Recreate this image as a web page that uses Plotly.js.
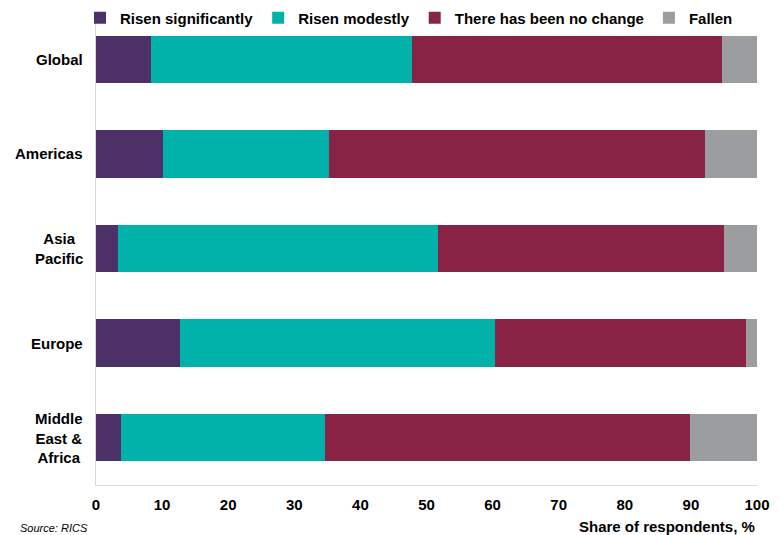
<!DOCTYPE html>
<html>
<head>
<meta charset="utf-8">
<script src="https://cdn.plot.ly/plotly-3.0.1.min.js"></script>
<style>html,body{margin:0;padding:0;background:#fff}#chart{width:779px;height:535px}</style>
</head>
<body>
<div id="chart"></div>
<script>
var regions = ["Global", "Americas", "Asia Pacific", "Europe", "Middle East & Africa"];
var regionLabels = ["Global", "Americas", "Asia<br>Pacific", "Europe", "Middle<br>East &<br>Africa"];
var seriesNames = ["Risen significantly", "Risen modestly", "There has been no change", "Fallen"];
var risenSignificantly = [8.3, 10.2, 3.3, 12.7, 3.8];
var risenModestly = [39.5, 25.0, 48.5, 47.7, 30.9];
var noChange = [46.9, 56.9, 43.2, 38.0, 55.2];
var fallen = [5.3, 7.9, 5.0, 1.6, 10.1];
var xTicks = [0, 10, 20, 30, 40, 50, 60, 70, 80, 90, 100];

var colors = ["#4e3068", "#00b2aa", "#882345", "#9c9d9f"];
var values = [risenSignificantly, risenModestly, noChange, fallen];
var FONT = "'Liberation Sans Narrow', 'Arial Narrow', 'Liberation Sans', Arial, sans-serif";

var traces = values.map(function (v, i) {
  return {
    type: 'bar', orientation: 'h', name: seriesNames[i],
    x: v, y: regions,
    marker: {color: colors[i], line: {width: 0}},
    hoverinfo: 'x+name'
  };
});

var annotations = regions.map(function (r, i) {
  return {
    xref: 'paper', yref: 'y', x: -0.016, y: r, xanchor: 'right', yanchor: 'middle',
    text: '<b>' + regionLabels[i] + '</b>', showarrow: false, align: 'center',
    font: {family: FONT, size: 15, color: '#000'}
  };
});
annotations.push({
  xref: 'paper', yref: 'paper', x: 1, y: -0.088, xanchor: 'right', yanchor: 'middle',
  text: '<b>Share of respondents, %</b>', showarrow: false,
  font: {family: FONT, size: 15, color: '#000'}
});
annotations.push({
  xref: 'paper', yref: 'paper', x: -0.118, y: -0.091, xanchor: 'left', yanchor: 'middle',
  text: '<i>Source: RICS</i>', showarrow: false,
  font: {family: FONT, size: 11, color: '#000'}
});

var layout = {
  width: 779, height: 535,
  margin: {l: 96, r: 22, t: 12, b: 50, autoexpand: false},
  paper_bgcolor: '#fff', plot_bgcolor: '#fff',
  barmode: 'stack', bargap: 0.5,
  font: {family: FONT, color: '#000'},
  showlegend: true,
  legend: {
    orientation: 'h', xref: 'container', yref: 'container',
    x: 80 / 779, y: 1 - 18 / 535, xanchor: 'left', yanchor: 'middle',
    font: {family: FONT, size: 15, color: '#000', weight: 'bold'},
    itemwidth: 30, traceorder: 'normal', bgcolor: 'rgba(0,0,0,0)'
  },
  xaxis: {
    range: [0, 100], tickvals: xTicks, ticktext: xTicks.map(String),
    showgrid: false, zeroline: false, showline: true, linecolor: '#d9d9d9', linewidth: 1,
    ticks: '', ticklabelstandoff: 6,
    tickfont: {family: FONT, size: 15, color: '#000', weight: 'bold'},
    fixedrange: true
  },
  yaxis: {
    autorange: 'reversed', categoryorder: 'array', categoryarray: regions,
    showgrid: false, zeroline: false, showline: true, linecolor: '#d9d9d9', linewidth: 1,
    ticks: '', showticklabels: false, fixedrange: true
  },
  annotations: annotations
};

Plotly.newPlot('chart', traces, layout, {displayModeBar: false, staticPlot: true});
</script>
</body>
</html>
